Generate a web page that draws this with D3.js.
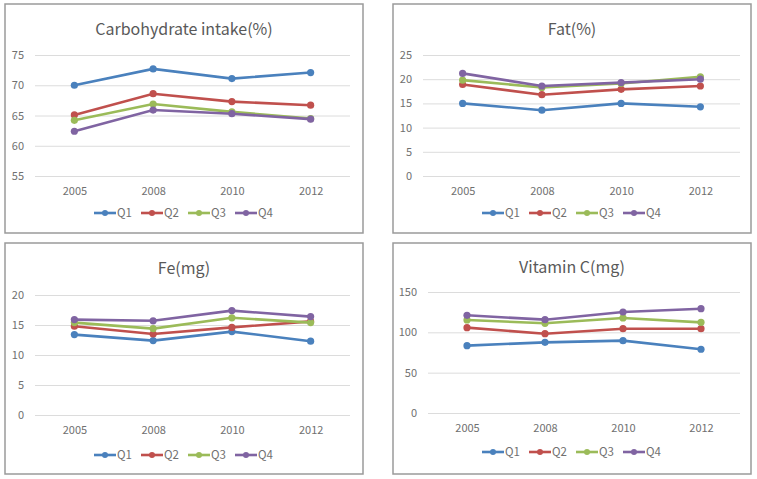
<!DOCTYPE html>
<html lang="en">
<head>
<meta charset="UTF-8">
<title>Nutrient intake by quartile</title>
<script src="https://d3js.org/d3.v7.min.js"></script>
<style>
    body {
        margin: 0;
        background: #fff;
        font-family: "Noto Sans CJK KR", "Noto Sans", sans-serif;
    }
    .panel-box {
        fill: #fff;
        stroke: #9a9a9a;
        stroke-width: 1.5px;
    }
    .title {
        font-size: 16px;
        fill: #595959;
    }
    .axis text {
        font-size: 11px;
        fill: #707070;
        font-family: "Noto Sans CJK KR", "Noto Sans", sans-serif;
    }
    .grid line {
        stroke: #dcdcdc;
    }
    .legend text {
        font-size: 11.5px;
        fill: #707070;
    }
</style>
</head>
<body>
<div id="chart"></div>
<script>
    const years = ["2005", "2008", "2010", "2012"];
    const seriesNames = ["Q1", "Q2", "Q3", "Q4"];
    const colors = ["#4a81bd", "#c0504d", "#9bbb59", "#8064a2"];

    const titles = ["Carbohydrate intake(%)", "Fat(%)", "Fe(mg)", "Vitamin C(mg)"];

    const yTicks = [
        [55, 60, 65, 70, 75],
        [0, 5, 10, 15, 20, 25],
        [0, 5, 10, 15, 20],
        [0, 50, 100, 150]
    ];

    const carbohydrate = [
        [70.0, 72.7, 71.1, 72.1],
        [65.1, 68.6, 67.3, 66.7],
        [64.2, 66.9, 65.6, 64.5],
        [62.4, 65.9, 65.3, 64.4]
    ];
    const fat = [
        [15.0, 13.6, 15.0, 14.3],
        [18.9, 16.8, 17.9, 18.6],
        [19.8, 18.3, 19.1, 20.5],
        [21.2, 18.6, 19.3, 20.0]
    ];
    const fe = [
        [13.4, 12.4, 13.9, 12.3],
        [14.8, 13.5, 14.6, 15.6],
        [15.4, 14.4, 16.2, 15.4],
        [15.9, 15.7, 17.4, 16.4]
    ];
    const vitaminC = [
        [83.5, 87.6, 89.7, 79.0],
        [105.8, 98.3, 104.5, 104.5],
        [115.3, 111.2, 117.8, 112.4],
        [121.1, 115.7, 125.2, 129.3]
    ];
    const panelData = [carbohydrate, fat, fe, vitaminC];

    // layout of the four boxes (box) and their plotting areas (plot)
    const layout = [
        { box: [5, 4, 358, 229], plot: [35, 55, 350, 176], titleY: 35, legendY: 213 },
        { box: [393, 4, 358, 229], plot: [423, 55, 740, 176], titleY: 35, legendY: 213 },
        { box: [5, 243, 358, 231], plot: [35, 295, 350, 415], titleY: 274, legendY: 455 },
        { box: [393, 243, 358, 231], plot: [428, 292, 740, 413], titleY: 273, legendY: 452 }
    ];

    const svg = d3.select("#chart")
        .append("svg")
        .attr("width", 757)
        .attr("height", 479);

    layout.forEach((lay, p) => {
        const [bx, by, bw, bh] = lay.box;
        const [x0, y0, x1, y1] = lay.plot;
        const ticks = yTicks[p];
        const g = svg.append("g");

        g.append("rect")
            .attr("class", "panel-box")
            .attr("x", bx).attr("y", by)
            .attr("width", bw).attr("height", bh);

        g.append("text")
            .attr("class", "title")
            .attr("x", bx + bw / 2)
            .attr("y", lay.titleY)
            .attr("text-anchor", "middle")
            .text(titles[p]);

        const x = d3.scalePoint()
            .domain(years)
            .range([x0, x1])
            .padding(0.5);

        const y = d3.scaleLinear()
            .domain([ticks[0], ticks[ticks.length - 1]])
            .range([y1, y0]);

        const yAxis = g.append("g")
            .attr("class", "axis grid")
            .attr("transform", `translate(${x0},0)`)
            .call(d3.axisLeft(y).tickValues(ticks).tickSize(-(x1 - x0)).tickPadding(11));
        yAxis.select(".domain").remove();

        const xAxis = g.append("g")
            .attr("class", "axis")
            .attr("transform", `translate(0,${y1})`)
            .call(d3.axisBottom(x).tickSize(0).tickPadding(11));
        xAxis.select(".domain").remove();

        const line = d3.line()
            .x((d, i) => x(years[i]))
            .y(d => y(d));

        panelData[p].forEach((vals, s) => {
            g.append("path")
                .datum(vals)
                .attr("d", line)
                .attr("fill", "none")
                .attr("stroke", colors[s])
                .attr("stroke-width", 2.6);

            g.selectAll(null)
                .data(vals)
                .join("circle")
                .attr("cx", (d, i) => x(years[i]))
                .attr("cy", d => y(d))
                .attr("r", 3.6)
                .attr("fill", colors[s]);
        });

        // legend, centred in the box
        const itemW = 47;
        const legend = g.append("g")
            .attr("class", "legend")
            .attr("transform", `translate(${bx + bw / 2 - (itemW * 4 - 8) / 2},${lay.legendY})`);

        seriesNames.forEach((name, s) => {
            const item = legend.append("g")
                .attr("transform", `translate(${s * itemW},0)`);
            item.append("line")
                .attr("x1", 0).attr("x2", 22)
                .attr("stroke", colors[s])
                .attr("stroke-width", 2.6);
            item.append("circle")
                .attr("cx", 11)
                .attr("r", 3)
                .attr("fill", colors[s]);
            item.append("text")
                .attr("x", 23)
                .attr("dy", "0.36em")
                .text(name);
        });
    });
</script>
</body>
</html>
